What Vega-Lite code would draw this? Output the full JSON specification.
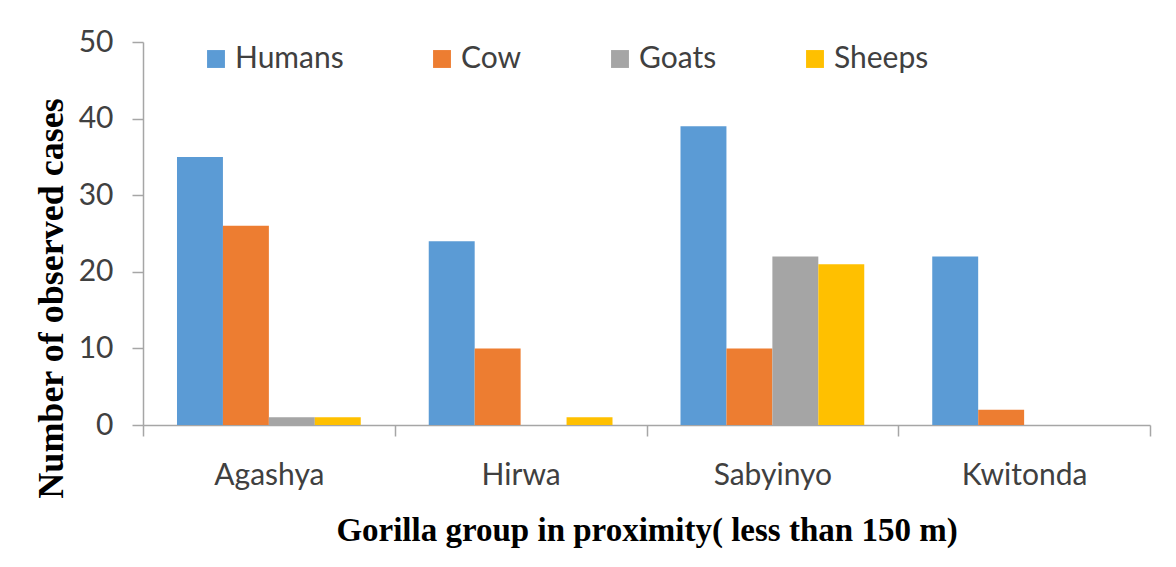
{
  "$schema": "https://vega.github.io/schema/vega-lite/v6.json",
  "width": 1007,
  "height": 383,
  "autosize": {"type": "none"},
  "padding": {"left": 143, "top": 42, "right": 26, "bottom": 142},
  "background": "white",
  "data": {
    "values": [
      {"group": "Agashya", "animal": "Humans", "count": 35},
      {"group": "Agashya", "animal": "Cow", "count": 26},
      {"group": "Agashya", "animal": "Goats", "count": 1},
      {"group": "Agashya", "animal": "Sheeps", "count": 1},
      {"group": "Hirwa", "animal": "Humans", "count": 24},
      {"group": "Hirwa", "animal": "Cow", "count": 10},
      {"group": "Hirwa", "animal": "Goats", "count": 0},
      {"group": "Hirwa", "animal": "Sheeps", "count": 1},
      {"group": "Sabyinyo", "animal": "Humans", "count": 39},
      {"group": "Sabyinyo", "animal": "Cow", "count": 10},
      {"group": "Sabyinyo", "animal": "Goats", "count": 22},
      {"group": "Sabyinyo", "animal": "Sheeps", "count": 21},
      {"group": "Kwitonda", "animal": "Humans", "count": 22},
      {"group": "Kwitonda", "animal": "Cow", "count": 2},
      {"group": "Kwitonda", "animal": "Goats", "count": 0},
      {"group": "Kwitonda", "animal": "Sheeps", "count": 0}
    ]
  },
  "mark": {"type": "bar"},
  "encoding": {
    "x": {
      "field": "group",
      "type": "nominal",
      "sort": ["Agashya", "Hirwa", "Sabyinyo", "Kwitonda"],
      "scale": {"paddingInner": 0, "paddingOuter": 0},
      "axis": {
        "title": "Gorilla  group in proximity(  less than 150 m)",
        "labelAngle": 0,
        "tickBand": "extent",
        "tickSize": 11,
        "labelPadding": 24,
        "titleFontSize": 33,
        "titleY": 115,
        "titleBaseline": "alphabetic"
      }
    },
    "xOffset": {
      "field": "animal",
      "type": "nominal",
      "sort": ["Humans", "Cow", "Goats", "Sheeps"],
      "scale": {"paddingInner": 0, "paddingOuter": 0.74}
    },
    "y": {
      "field": "count",
      "type": "quantitative",
      "scale": {"domain": [0, 50], "nice": false},
      "axis": {
        "title": "Number  of  observed cases",
        "values": [0, 10, 20, 30, 40, 50],
        "tickSize": 11,
        "labelPadding": 19,
        "titleFontSize": 36,
        "titleX": -81,
        "titleY": 256,
        "titleBaseline": "alphabetic"
      }
    },
    "color": {
      "field": "animal",
      "type": "nominal",
      "sort": ["Humans", "Cow", "Goats", "Sheeps"],
      "scale": {
        "domain": ["Humans", "Cow", "Goats", "Sheeps"],
        "range": ["#5B9BD5", "#ED7D31", "#A5A5A5", "#FFC000"]
      },
      "legend": {
        "title": null,
        "orient": "none",
        "direction": "horizontal",
        "legendX": 58,
        "legendY": 2
      }
    }
  },
  "config": {
    "view": {"stroke": null},
    "axis": {
      "grid": false,
      "domainColor": "#A6A6A6",
      "domainWidth": 1.5,
      "tickColor": "#A6A6A6",
      "tickWidth": 1.5,
      "labelFont": "Lato",
      "labelFontSize": 30,
      "labelColor": "#404040",
      "titleFont": "Liberation Serif",
      "titleFontWeight": "bold",
      "titleFontSize": 32,
      "titleColor": "#000000"
    },
    "legend": {
      "symbolType": "square",
      "symbolSize": 320,
      "symbolStrokeWidth": 0,
      "labelFont": "Lato",
      "labelFontSize": 30,
      "labelColor": "#404040",
      "labelOffset": 4,
      "columnPadding": 83
    }
  }
}
